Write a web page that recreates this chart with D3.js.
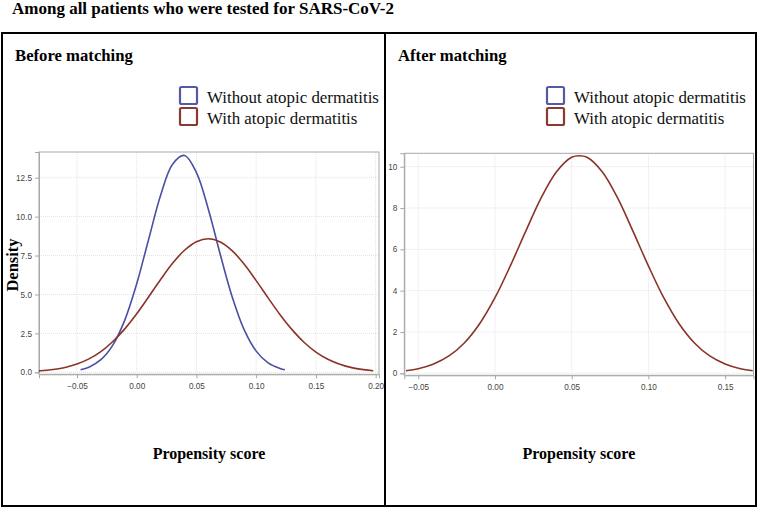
<!DOCTYPE html>
<head>
  <meta charset="UTF-8">
  <title>propensity</title>
  <style>
  body, html, svg{
    padding: 0;
    margin: 0;
  }
  body{
    background: #fff;
  }
  .serif{
    font-family: "Liberation Serif", "Times New Roman", serif;
  }
  .tick text{
    font-family: "Liberation Sans", Arial, sans-serif;
    font-size: 8.2px;
    fill: #444;
  }
  </style>
</head>
<body>
  <script src="https://cdn.jsdelivr.net/npm/d3@7/dist/d3.min.js"></script>
  <script type="text/javascript">
  var width = 759;
  var height = 510;

  // data: [propensity score, density]
  var beforeWithout = [
    [-0.047, 0.16], [-0.04, 0.33], [-0.03, 0.81], [-0.02, 1.75], [-0.01, 3.35],
    [0.00, 5.69], [0.01, 8.55], [0.02, 11.37], [0.03, 13.37], [0.04, 13.93],
    [0.05, 12.83], [0.06, 10.46], [0.07, 7.55], [0.08, 4.82], [0.09, 2.72],
    [0.10, 1.36], [0.11, 0.60], [0.12, 0.24], [0.124, 0.16]
  ];
  var beforeWith = [
    [-0.082, 0.08], [-0.07, 0.18], [-0.06, 0.31], [-0.05, 0.53], [-0.04, 0.86],
    [-0.03, 1.33], [-0.02, 1.98], [-0.01, 2.79], [0.00, 3.76], [0.01, 4.85],
    [0.02, 5.96], [0.03, 7.00], [0.04, 7.84], [0.05, 8.39], [0.06, 8.58],
    [0.07, 8.37], [0.08, 7.80], [0.09, 6.94], [0.10, 5.89], [0.11, 4.78],
    [0.12, 3.70], [0.13, 2.74], [0.14, 1.93], [0.15, 1.30], [0.16, 0.84],
    [0.17, 0.52], [0.18, 0.30], [0.19, 0.17], [0.198, 0.10]
  ];
  var afterWith = [
    [-0.058, 0.12], [-0.05, 0.22], [-0.04, 0.45], [-0.03, 0.84], [-0.02, 1.47],
    [-0.01, 2.40], [0.00, 3.66], [0.01, 5.20], [0.02, 6.87], [0.03, 8.48],
    [0.04, 9.75], [0.05, 10.46], [0.055, 10.53], [0.06, 10.46], [0.07, 9.75],
    [0.08, 8.48], [0.09, 6.87], [0.10, 5.20], [0.11, 3.66], [0.12, 2.40],
    [0.13, 1.47], [0.14, 0.84], [0.15, 0.45], [0.16, 0.22], [0.168, 0.12]
  ];

  var xTicks = [-0.05, 0.00, 0.05, 0.10, 0.15, 0.20];
  var yTicksBefore = [0, 2.5, 5, 7.5, 10, 12.5];
  var yTicksAfter = [0, 2, 4, 6, 8, 10];
  var legendLabels = ['Without atopic dermatitis', 'With atopic dermatitis'];

  var blue = '#4b4fa2';
  var red = '#8a3328';

  var svg = d3.select('body')
    .append('svg')
    .attr('width', width)
    .attr('height', height);

  //标题
  svg.append('text')
    .attr('class', 'serif')
    .attr('x', 12)
    .attr('y', 14)
    .attr('font-size', '17px')
    .attr('font-weight', 'bold')
    .text('Among all patients who were tested for SARS-CoV-2');

  //外框
  svg.append('rect')
    .attr('x', 2).attr('y', 33)
    .attr('width', 754).attr('height', 473)
    .attr('fill', 'none')
    .attr('stroke', '#000')
    .attr('stroke-width', 2);
  svg.append('line')
    .attr('x1', 385).attr('x2', 385)
    .attr('y1', 33).attr('y2', 506)
    .attr('stroke', '#000')
    .attr('stroke-width', 2);

  var defs = svg.append('defs');

  var panels = [
    {
      id: 'before',
      title: 'Before matching',
      titleX: 15,
      clip: [3, 34, 381, 471],
      left: 39, right: 379, top: 152, bottom: 372.3,
      xDomain: [-0.0818, 0.2028],
      yDomain: [0, 14.15],
      yTicks: yTicksBefore,
      yFormat: d3.format('.1f'),
      legendX: 180,
      series: [{data: beforeWithout, color: blue}, {data: beforeWith, color: red}],
      showDensity: true
    },
    {
      id: 'after',
      title: 'After matching',
      titleX: 398,
      clip: [386, 34, 370, 471],
      left: 404.3, right: 753.5, top: 153.3, bottom: 373.3,
      xDomain: [-0.0591, 0.1685],
      yDomain: [0, 10.65],
      yTicks: yTicksAfter,
      yFormat: d3.format('d'),
      legendX: 547,
      series: [{data: afterWith, color: red}],
      showDensity: false
    }
  ];

  panels.forEach(function(p){
    defs.append('clipPath')
      .attr('id', 'clip-' + p.id)
      .append('rect')
      .attr('x', p.clip[0]).attr('y', p.clip[1])
      .attr('width', p.clip[2]).attr('height', p.clip[3]);

    var g = svg.append('g').attr('clip-path', 'url(#clip-' + p.id + ')');

    var x = d3.scaleLinear().domain(p.xDomain).range([p.left, p.right]);
    var y = d3.scaleLinear().domain(p.yDomain).range([p.bottom, p.top]);

    var ticksX = xTicks.filter(function(t){ return t >= p.xDomain[0] && t <= p.xDomain[1] + 0.001; });

    //网格
    g.append('g').selectAll('line')
      .data(ticksX)
      .enter().append('line')
      .attr('x1', function(d){ return x(d); })
      .attr('x2', function(d){ return x(d); })
      .attr('y1', p.top).attr('y2', p.bottom)
      .attr('stroke', '#e2e2e2')
      .attr('stroke-dasharray', '1,1');
    g.append('g').selectAll('line')
      .data(p.yTicks)
      .enter().append('line')
      .attr('x1', p.left).attr('x2', p.right)
      .attr('y1', function(d){ return y(d); })
      .attr('y2', function(d){ return y(d); })
      .attr('stroke', '#e2e2e2')
      .attr('stroke-dasharray', '1,1');

    //坐标框
    g.append('rect')
      .attr('x', p.left).attr('y', p.top)
      .attr('width', p.right - p.left).attr('height', p.bottom + 2 - p.top)
      .attr('fill', 'none')
      .attr('stroke', '#a8a8a8');

    var xAxis = g.append('g')
      .attr('transform', 'translate(0,' + (p.bottom + 2) + ')')
      .call(d3.axisBottom(x).tickValues(ticksX).tickFormat(d3.format('.2f')).tickSize(4).tickPadding(5));
    var yAxis = g.append('g')
      .attr('transform', 'translate(' + p.left + ',0)')
      .call(d3.axisLeft(y).tickValues(p.yTicks).tickFormat(p.yFormat).tickSize(4).tickPadding(3));
    [xAxis, yAxis].forEach(function(a){
      a.select('.domain').attr('stroke', '#a8a8a8');
      a.selectAll('.tick line').attr('stroke', '#a8a8a8');
    });

    //曲线
    var line = d3.line()
      .x(function(d){ return x(d[0]); })
      .y(function(d){ return y(d[1]); })
      .curve(d3.curveCatmullRom);
    g.selectAll('path.curve')
      .data(p.series)
      .enter().append('path')
      .attr('class', 'curve')
      .attr('d', function(d){ return line(d.data); })
      .attr('fill', 'none')
      .attr('stroke', function(d){ return d.color; })
      .attr('stroke-width', 1.6);

    //面板标题
    svg.append('text')
      .attr('class', 'serif')
      .attr('x', p.titleX).attr('y', 61)
      .attr('font-size', '16.7px')
      .attr('font-weight', 'bold')
      .text(p.title);

    //图例
    var leg = svg.append('g').selectAll('g')
      .data(legendLabels)
      .enter().append('g')
      .attr('transform', function(d, i){ return 'translate(' + p.legendX + ',' + (87 + i * 21) + ')'; });
    leg.append('rect')
      .attr('width', 17).attr('height', 17)
      .attr('rx', 1.5)
      .attr('fill', 'none')
      .attr('stroke-width', 2.2)
      .attr('stroke', function(d, i){ return i === 0 ? '#5559a8' : '#8a3a2e'; });
    leg.append('text')
      .attr('class', 'serif')
      .attr('x', 27).attr('y', 15.5)
      .attr('font-size', '16.9px')
      .attr('fill', '#111')
      .text(function(d){ return d; });

    //轴标题
    svg.append('text')
      .attr('class', 'serif')
      .attr('x', (p.left + p.right) / 2).attr('y', 459)
      .attr('text-anchor', 'middle')
      .attr('font-size', '16px')
      .attr('font-weight', 'bold')
      .text('Propensity score');

    if(p.showDensity){
      svg.append('text')
        .attr('class', 'serif')
        .attr('transform', 'translate(18,' + 265 + ') rotate(-90)')
        .attr('text-anchor', 'middle')
        .attr('font-size', '16.5px')
        .attr('font-weight', 'bold')
        .text('Density');
    }
  });

  </script>
</body>
</html>
